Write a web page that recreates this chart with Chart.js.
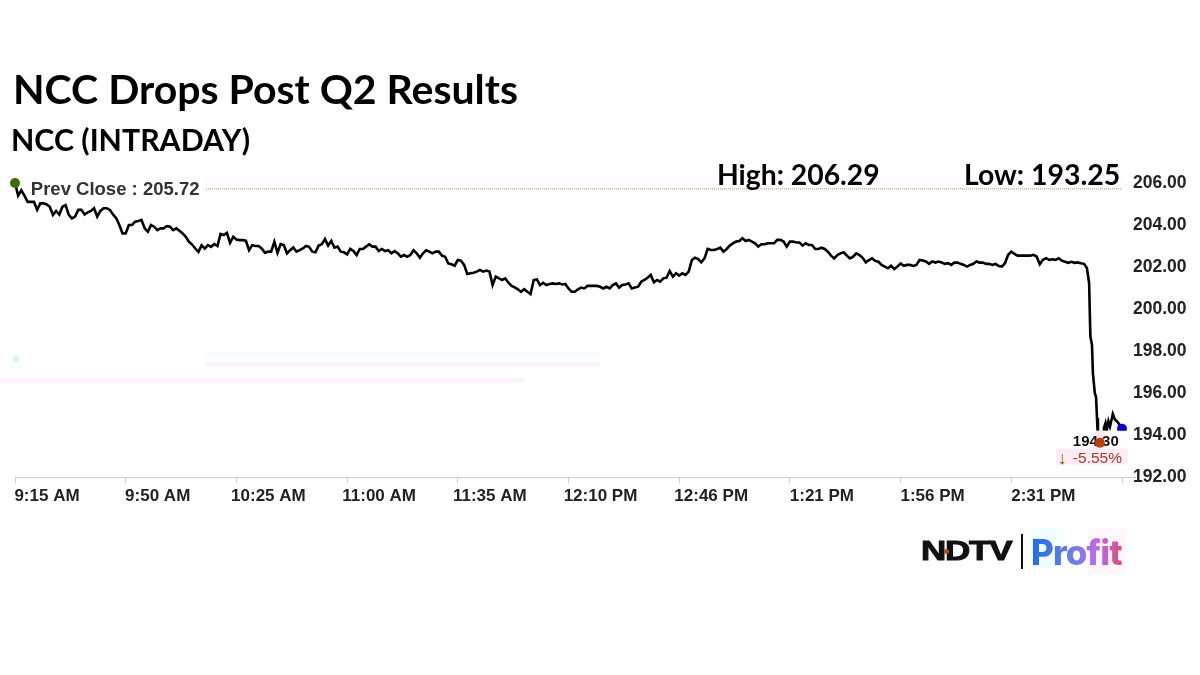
<!DOCTYPE html>
<html>
<head>
<meta charset="utf-8">
<title>NCC Drops Post Q2 Results</title>
<script src="https://cdn.jsdelivr.net/npm/chart.js@4"></script>
<style>
  html, body { margin: 0; padding: 0; background: #fff; }
  #wrap { position: relative; width: 1200px; height: 675px; overflow: hidden; }
  #chart { position: absolute; left: 0; top: 0; }
  .head { position: absolute; font-family: Lato, "Open Sans", sans-serif; font-weight: 700; color: #000; white-space: nowrap; line-height: 1; }
  .band { position: absolute; }
  #ndtv { position: absolute; left: 921px; top: 537px; font: 900 28px "Liberation Sans", sans-serif; color: #111; transform-origin: left center; transform: scaleX(1.25); letter-spacing: -1px; line-height: 1; -webkit-text-stroke: 1px #111; }
  #sep { position: absolute; left: 1021px; top: 534px; width: 2px; height: 35px; background: #111; }
  #dot { position: absolute; left: 944px; top: 549px; width: 5px; height: 5px; border-radius: 50%; background: #a5541d; }
  #profit { position: absolute; left: 1031px; top: 533px; font: 800 35px Inter, Roboto, sans-serif; font-variant-ligatures: none; line-height: 1.1; letter-spacing: -0.9px; background: linear-gradient(90deg, #1f6fe0 0%, #6d7de8 45%, #b96be8 72%, #d9507f 100%); -webkit-background-clip: text; background-clip: text; color: transparent; }
</style>
</head>
<body>
<div id="wrap">
  <div class="band" style="left:206px;top:176px;width:916px;height:11px;background:#fffbfe"></div>
  <div class="band" style="left:205px;top:352px;width:395px;height:6px;background:#f9fdfe"></div>
  <div class="band" style="left:205px;top:362px;width:395px;height:5px;background:#fdf5fc"></div>
  <div class="band" style="left:0;top:378px;width:523px;height:5px;background:#fdf2fb"></div>
  <div class="band" style="left:13px;top:356px;width:6px;height:6px;background:#d4f7fb"></div>
  <div class="band" style="left:1032px;top:528px;width:24px;height:40px;background:#f0fdff"></div>
  <div class="band" style="left:1056px;top:528px;width:8px;height:40px;background:#f6feff"></div>
  <div class="band" style="left:1088px;top:528px;width:38px;height:46px;background:#fff5fd"></div>
  <canvas id="chart" width="1200" height="675"></canvas>
  <div class="head" id="t1" style="left:13px;top:68px;font-size:41px">NCC Drops Post Q2 Results</div>
  <div class="head" id="t2" style="left:11px;top:124px;font-size:30.3px">NCC (INTRADAY)</div>
  <div class="head" id="t3" style="left:717px;top:160px;font-size:28.3px">High: 206.29</div>
  <div class="head" id="t4" style="left:964px;top:160px;font-size:28.4px">Low: 193.25</div>
  <div id="ndtv">NDTV</div>
  <div id="dot"></div>
  <div id="sep"></div>
  <div id="profit">Profit</div>
</div>
<script>
// tick labels
var tickLabels = ['9:15 AM', '9:50 AM', '10:25 AM', '11:00 AM', '11:35 AM', '12:10 PM', '12:46 PM', '1:21 PM', '1:56 PM', '2:31 PM', ''];
var tickStep = 35; // minutes between time labels
var sessionMinutes = 350;

// one price per minute from 9:15
var prices = [
  206.0, 205.4, 205.65, 205.4, 205.1, 205.1, 205.1, 204.72, 205.03, 205.03,
  204.98, 204.87, 204.48, 204.67, 204.5, 204.87, 204.95, 204.48, 204.32, 204.4,
  204.72, 204.72, 204.5, 204.6, 204.67, 204.8, 204.4, 204.67, 204.8, 204.8,
  204.72, 204.5, 204.32, 204.0, 203.6, 203.6, 204.0, 204.0, 204.16, 204.19,
  204.24, 203.84, 203.68, 204.0, 203.92, 203.76, 203.84, 203.84, 203.95, 203.92,
  203.76, 203.84, 203.73, 203.6, 203.44, 203.2, 203.07, 202.88, 202.72, 203.04,
  202.88, 203.04, 202.96, 203.09, 203.0, 203.57, 203.52, 203.63, 203.15, 203.44,
  203.31, 203.28, 203.28, 203.25, 202.8, 203.04, 203.0, 203.0, 202.88, 202.68,
  202.73, 202.73, 203.2, 202.68, 203.09, 203.04, 202.65, 202.8, 202.93, 202.73,
  202.8, 202.88, 203.0, 202.96, 202.73, 202.7, 203.02, 203.08, 203.33, 203.02,
  203.24, 202.92, 202.97, 202.73, 202.7, 202.6, 202.86, 202.76, 202.57, 202.86,
  202.86, 202.97, 203.08, 202.97, 202.97, 202.76, 202.86, 202.76, 202.8, 202.65,
  202.76, 202.65, 202.49, 202.57, 202.49, 202.57, 202.8, 202.65, 202.44, 202.65,
  202.8, 202.73, 202.65, 202.73, 202.73, 202.54, 202.49, 202.17, 202.13, 202.06,
  202.33, 202.3, 202.1, 201.67, 201.7, 201.73, 201.78, 201.86, 201.78, 201.83,
  201.78, 201.14, 201.54, 201.46, 201.38, 201.46, 201.25, 201.1, 201.03, 200.94,
  200.82, 200.94, 200.82, 200.71, 201.38, 201.41, 201.14, 201.25, 201.14, 201.19,
  201.22, 201.19, 201.22, 201.17, 201.19, 200.98, 200.82, 200.82, 200.94, 201.02,
  200.98, 201.1, 201.1, 201.11, 201.1, 201.06, 200.98, 201.06, 200.98, 201.14,
  201.22, 201.02, 201.14, 201.17, 201.22, 200.98, 201.02, 201.06, 201.3, 201.38,
  201.49, 201.62, 201.27, 201.38, 201.3, 201.46, 201.49, 201.81, 201.54, 201.7,
  201.59, 201.7, 201.62, 201.78, 202.33, 202.44, 202.38, 202.22, 202.41, 202.86,
  202.81, 202.81, 202.86, 202.92, 202.73, 202.86, 203.02, 203.13, 203.21, 203.24,
  203.37, 203.24, 203.29, 203.21, 203.13, 202.97, 203.08, 203.08, 203.13, 203.13,
  203.13, 203.29, 203.29, 203.21, 202.97, 203.21, 203.21, 203.17, 203.17, 203.02,
  203.13, 203.05, 203.05, 202.86, 202.86, 202.92, 202.86, 202.73, 202.54, 202.41,
  202.57, 202.65, 202.7, 202.54, 202.41, 202.49, 202.65, 202.57, 202.44, 202.22,
  202.33, 202.41, 202.29, 202.25, 202.1, 202.02, 201.94, 202.06, 201.9, 202.02,
  202.17, 202.06, 202.1, 202.1, 202.05, 202.1, 202.34, 202.31, 202.26, 202.15,
  202.26, 202.21, 202.26, 202.21, 202.15, 202.18, 202.1, 202.21, 202.21, 202.15,
  202.1, 202.02, 202.1, 202.15, 202.26, 202.21, 202.21, 202.15, 202.15, 202.1,
  202.15, 202.05, 202.02, 202.18, 202.58, 202.73, 202.62, 202.54, 202.54, 202.54,
  202.54, 202.54, 202.58, 202.5, 202.13, 202.34, 202.42, 202.34, 202.37, 202.34,
  202.42, 202.3, 202.25, 202.2, 202.25, 202.2, 202.22, 202.18, 202.15
];
// the final sell-off is steeper than one point a minute can show
var tailMinutes = [338.9, 339.6, 340, 340.5, 340.8, 341.4, 341.8, 342.1, 342.4, 343, 344, 344.3, 344.8, 345.2, 345.7, 346.2, 347.1, 347.7, 348.7, 350];
var tailPrices = [201.95, 201.24, 198.7, 198.3, 196.95, 196.0, 195.8, 194.8, 193.7, 193.67, 193.9, 194.33, 194.57, 194.25, 194.65, 194.4, 195.0, 194.75, 194.6, 194.3];

var prevClose = 205.72;
var lastPrice = 194.30;
var pctChange = -5.55;
var openMarker = { x: 0, y: 206.0 };
var lastMarker = { x: 350, y: 194.3 };
var lowMarker = { x: 343, y: 193.63 };
var prevLineFrom = 60.4;

var linePoints = prices.map(function (p, i) { return { x: i, y: p }; })
  .concat(tailMinutes.map(function (m, i) { return { x: m, y: tailPrices[i] }; }));

// labels sit between the line and the red dot, so they hook in after the markers dataset
var labelPlugin = {
  id: 'labels',
  afterDatasetDraw: function (chart, args) {
    if (args.index !== 1) return;
    var ctx = chart.ctx;
    var sx = chart.scales.x, sy = chart.scales.y;
    var px = sx.getPixelForValue(lowMarker.x);
    var py = sy.getPixelForValue(lowMarker.y);
    ctx.save();
    ctx.fillStyle = '#fff';
    ctx.fillRect(px - 30, py - 12, 58, 18);
    ctx.fillStyle = '#fde6f2';
    ctx.fillRect(px - 5, py - 12, 10, 18);
    ctx.fillStyle = '#fdecf6';
    ctx.fillRect(px - 44, py + 6, 72, 16);
    ctx.textBaseline = 'middle';
    ctx.textAlign = 'left';
    ctx.fillStyle = '#111';
    ctx.font = 'bold 15px "Liberation Sans"';
    ctx.fillText(lastPrice.toFixed(2), px - 27, py - 1);
    ctx.fillStyle = '#8a5a22';
    ctx.font = 'bold 18px "Liberation Sans"';
    ctx.fillText('\u2193', px - 42, py + 16);
    ctx.fillStyle = '#a63a1c';
    ctx.font = '15.5px "Liberation Sans"';
    ctx.fillText(pctChange.toFixed(2) + '%', px - 27, py + 16);
    // prev close caption
    ctx.fillStyle = '#333';
    ctx.font = 'bold 18.5px "Liberation Sans"';
    ctx.fillText('Prev Close : ' + prevClose.toFixed(2), sx.getPixelForValue(5), sy.getPixelForValue(prevClose) + 1);
    ctx.restore();
  }
};

new Chart(document.getElementById('chart').getContext('2d'), {
  type: 'line',
  plugins: [labelPlugin],
  data: {
    datasets: [
      { data: [lowMarker], showLine: false, pointRadius: 5, pointBackgroundColor: '#b8420f', pointBorderWidth: 0, clip: false },
      { data: [openMarker, lastMarker], showLine: false, pointRadius: 5, pointBackgroundColor: ['#3f6b00', '#0000cc'], pointBorderWidth: 0, clip: false },
      { data: linePoints, borderColor: '#000', borderWidth: 2.6, pointRadius: 0, tension: 0, clip: false },
      { data: [{ x: prevLineFrom, y: prevClose }, { x: sessionMinutes, y: prevClose }], borderColor: '#a58f62', borderWidth: 1, borderDash: [1, 1], pointRadius: 0, clip: false }
    ]
  },
  options: {
    responsive: false,
    animation: false,
    devicePixelRatio: 1,
    parsing: false,
    layout: { padding: { left: 15, top: 183, right: 0, bottom: 0 } },
    plugins: { legend: { display: false }, tooltip: { enabled: false }, title: { display: false } },
    scales: {
      x: {
        type: 'linear',
        min: 0,
        max: sessionMinutes,
        afterFit: function (s) { s.height = 198; s.paddingLeft = 0; s.paddingRight = 0; },
        border: { color: '#ccc', width: 1 },
        grid: { drawOnChartArea: false, color: '#ccc', tickLength: 6 },
        ticks: {
          stepSize: tickStep,
          autoSkip: false,
          maxRotation: 0,
          align: 'center',
          labelOffset: 32,
          padding: 3,
          color: '#222',
          font: { family: '"Liberation Sans"', weight: 'bold', size: 17 },
          callback: function (v) { return tickLabels[Math.round(v / tickStep)]; }
        }
      },
      y: {
        position: 'right',
        min: 192,
        max: 206,
        afterFit: function (s) { s.width = 78; },
        border: { display: false },
        grid: {
          drawOnChartArea: false,
          tickLength: 14,
          color: function (c) { return c.tick && c.tick.value === 192 ? '#ccc' : 'rgba(0,0,0,0)'; }
        },
        ticks: {
          stepSize: 2,
          padding: -3,
          color: '#222',
          font: { family: '"Liberation Sans"', weight: 'bold', size: 17.5 },
          callback: function (v) { return v.toFixed(2); }
        }
      }
    }
  }
});
</script>
</body>
</html>
